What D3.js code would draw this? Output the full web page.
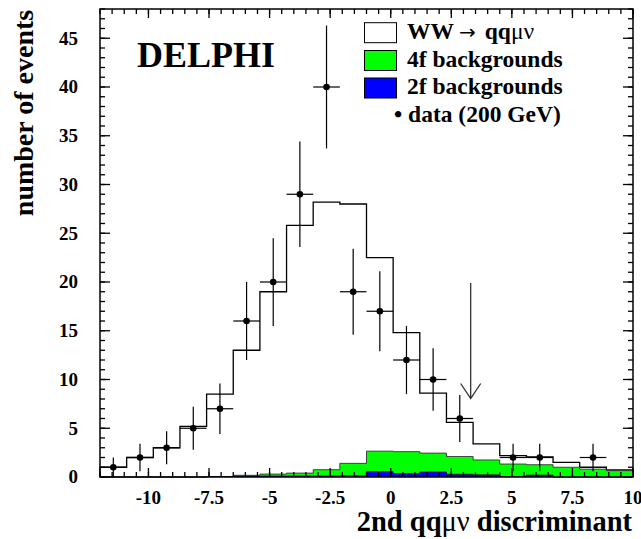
<!DOCTYPE html>
<html>
<head>
<meta charset="utf-8">
<script src="https://cdn.jsdelivr.net/npm/d3@7"></script>
<style>
  body { margin: 0; background: #fff; }
  svg { display: block; }
  text { font-family: "Liberation Serif", "Times New Roman", serif; font-weight: bold; fill: #000; }
</style>
</head>
<body>
<div id="plot"></div>
<script>
// bin centres of the discriminant histogram (width 1.1)
var binCenters = [-11.45, -10.35, -9.25, -8.15, -7.05, -5.95, -4.85, -3.75, -2.65, -1.55,
                  -0.45, 0.65, 1.75, 2.85, 3.95, 5.05, 6.15, 7.25, 8.35, 9.45];
var binWidth = 1.1;

// WW -> qqmunu simulation (total stacked height)
var wwTotal = [1, 2, 3, 5.2, 8.5, 13, 19, 25.8, 28.2, 28.0,
               22.5, 14.8, 8.6, 5.6, 3.4, 2.2, 2.05, 1.5, 1.0, 0.72];
// 4f backgrounds (stacked on 2f)
var bkg4f = [0, 0, 0, 0, 0.05, 0.17, 0.3, 0.4, 0.75, 1.4,
             2.65, 2.6, 2.45, 2.1, 1.75, 1.33, 1.26, 1.0, 0.8, 0.65];
// 2f backgrounds
var bkg2f = [0, 0, 0, 0, 0.05, 0.08, 0.1, 0.1, 0.1, 0.12,
             0.55, 0.35, 0.52, 0.28, 0.22, 0.05, 0.2, 0, 0, 0];
// data (200 GeV) and errors
var dataN = [1, 2, 3, 5, 7, 16, 20, 29, 40, 19, 17, 12, 10, 6, 0, 2, 2, 0, 2, 0];
var dataErr = [1, 1.4, 1.7, 2.2, 2.6, 4, 4.5, 5.4, 6.3, 4.4, 4.1, 3.5, 3.2, 2.4, 0, 1.4, 1.4, 0, 1.4, 0];

var xTicks = [-10, -7.5, -5, -2.5, 0, 2.5, 5, 7.5, 10];
var xTickLabels = ["-10", "-7.5", "-5", "-2.5", "0", "2.5", "5", "7.5", "10"];
var yTicks = [0, 5, 10, 15, 20, 25, 30, 35, 40, 45];

var cutValue = 3.3, arrowTop = 19.9, arrowTip = 8.05;

var width = 641, height = 539;
var mLeft = 100, mRight = 633, mTop = 9, mBottom = 477;

var x = d3.scaleLinear().domain([-12, 10]).range([mLeft, mRight]);
var y = d3.scaleLinear().domain([0, 48]).range([mBottom, mTop]);

var svg = d3.select("#plot").append("svg")
    .attr("width", width)
    .attr("height", height);

// step outline for a histogram
function stepPath(vals) {
  var p = "M" + x(binCenters[0] - binWidth / 2) + "," + y(0);
  vals.forEach(function(v, i) {
    p += "L" + x(binCenters[i] - binWidth / 2) + "," + y(v);
    p += "L" + x(binCenters[i] + binWidth / 2) + "," + y(v);
  });
  p += "L" + x(binCenters[vals.length - 1] + binWidth / 2) + "," + y(0);
  return p;
}

svg.append("path")
    .attr("d", stepPath(wwTotal))
    .attr("fill", "#fff")
    .attr("stroke", "#000")
    .attr("stroke-width", 1.3);

svg.append("path")
    .attr("d", stepPath(bkg4f))
    .attr("fill", "#00ff00")
    .attr("stroke", "#333")
    .attr("stroke-width", 0.9);

svg.append("path")
    .attr("d", stepPath(bkg2f))
    .attr("fill", "#0000ff")
    .attr("stroke", "#001")
    .attr("stroke-width", 0.7);

// axes: ticks drawn inward
var minorX = d3.range(-12, 10.01, 0.5);
var minorY = d3.range(0, 48.01, 1);

function addTicks(g, vals, len, orient) {
  var horiz = orient == "b" || orient == "t";
  g.selectAll(null).data(vals).enter().append("line")
    .attr("x1", function(d) { return horiz ? x(d) : (orient == "l" ? mLeft : mRight); })
    .attr("x2", function(d) { return horiz ? x(d) : (orient == "l" ? mLeft + len : mRight - len); })
    .attr("y1", function(d) { return !horiz ? y(d) : (orient == "b" ? mBottom : mTop); })
    .attr("y2", function(d) { return !horiz ? y(d) : (orient == "b" ? mBottom - len : mTop + len); })
    .attr("stroke", "#000")
    .attr("stroke-width", 1.3);
}

var ticks = svg.append("g");
addTicks(ticks, minorX, 5, "b");
addTicks(ticks, xTicks, 9, "b");
addTicks(ticks, minorX, 5, "t");
addTicks(ticks, xTicks, 9, "t");
addTicks(ticks, minorY, 5, "l");
addTicks(ticks, yTicks, 10, "l");
addTicks(ticks, minorY, 5, "r");
addTicks(ticks, yTicks, 10, "r");

svg.append("rect")
    .attr("x", mLeft).attr("y", mTop)
    .attr("width", mRight - mLeft).attr("height", mBottom - mTop)
    .attr("fill", "none")
    .attr("stroke", "#000")
    .attr("stroke-width", 1.5);

svg.append("g").selectAll("text").data(xTicks).enter().append("text")
    .attr("x", function(d) { return x(d); })
    .attr("y", 504)
    .attr("text-anchor", "middle")
    .attr("font-size", 19)
    .text(function(d, i) { return xTickLabels[i]; });

svg.append("g").selectAll("text").data(yTicks).enter().append("text")
    .attr("x", 78)
    .attr("y", function(d) { return y(d); })
    .attr("dy", "0.33em")
    .attr("text-anchor", "end")
    .attr("font-size", 19)
    .text(function(d) { return d; });

// data points with error bars
var pts = binCenters.map(function(c, i) { return { c: c, n: dataN[i], e: dataErr[i] }; })
    .filter(function(d) { return d.n > 0; });

var dg = svg.append("g");
dg.selectAll(".eh").data(pts).enter().append("line")
    .attr("x1", function(d) { return x(d.c - binWidth / 2); })
    .attr("x2", function(d) { return x(d.c + binWidth / 2); })
    .attr("y1", function(d) { return y(d.n); })
    .attr("y2", function(d) { return y(d.n); })
    .attr("stroke", "#000").attr("stroke-width", 1.2);
dg.selectAll(".ev").data(pts).enter().append("line")
    .attr("x1", function(d) { return x(d.c); })
    .attr("x2", function(d) { return x(d.c); })
    .attr("y1", function(d) { return y(Math.max(0, d.n - d.e)); })
    .attr("y2", function(d) { return y(d.n + d.e); })
    .attr("stroke", "#000").attr("stroke-width", 1.2);
dg.selectAll("circle").data(pts).enter().append("circle")
    .attr("cx", function(d) { return x(d.c); })
    .attr("cy", function(d) { return y(d.n); })
    .attr("r", 3.3)
    .attr("fill", "#000");

// cut arrow
svg.append("path")
    .attr("d", "M" + x(cutValue) + "," + y(arrowTop) + "L" + x(cutValue) + "," + y(arrowTip) +
               "M" + (x(cutValue) - 10) + "," + (y(arrowTip) - 15) + "L" + x(cutValue) + "," + y(arrowTip) +
               "L" + (x(cutValue) + 10) + "," + (y(arrowTip) - 15))
    .attr("fill", "none")
    .attr("stroke", "#333")
    .attr("stroke-width", 1.3);

// labels
svg.append("text")
    .attr("x", 137).attr("y", 67)
    .attr("font-size", 36)
    .text("DELPHI");

svg.append("text")
    .attr("transform", "translate(33,113) rotate(-90)")
    .attr("text-anchor", "middle")
    .attr("font-size", 28)
    .text("number of events");

var xl = svg.append("text")
    .attr("x", 632).attr("y", 531)
    .attr("text-anchor", "end")
    .attr("font-size", 28.5);
xl.append("tspan").text("2nd qq");
xl.append("tspan").attr("font-weight", "normal").text("μν");
xl.append("tspan").text(" discriminant");

// legend
var legFill = ["#fff", "#00ff00", "#0000ff"];
var legY = [22.7, 50.5, 78];
svg.append("g").selectAll("rect").data(legFill).enter().append("rect")
    .attr("x", 364.5)
    .attr("y", function(d, i) { return legY[i]; })
    .attr("width", 32).attr("height", 20)
    .attr("fill", function(d) { return d; })
    .attr("stroke", "#000").attr("stroke-width", 1);

var l1 = svg.append("text").attr("x", 407).attr("y", 39).attr("font-size", 23.5);
l1.append("tspan").text("WW");
l1.append("tspan").attr("dx", 5).attr("font-weight", "normal").attr("font-family", "DejaVu Sans")
    .attr("font-size", 20).text("→");
l1.append("tspan").attr("dx", 9).text("qq");
l1.append("tspan").attr("font-weight", "normal").text("μν");

svg.append("text").attr("x", 407).attr("y", 66.5).attr("font-size", 23.5).text("4f backgrounds");
svg.append("text").attr("x", 407).attr("y", 94).attr("font-size", 23.5).text("2f backgrounds");
svg.append("text").attr("x", 394).attr("y", 121.5).attr("font-size", 23.5).text("• data (200 GeV)");
</script>
</body>
</html>
